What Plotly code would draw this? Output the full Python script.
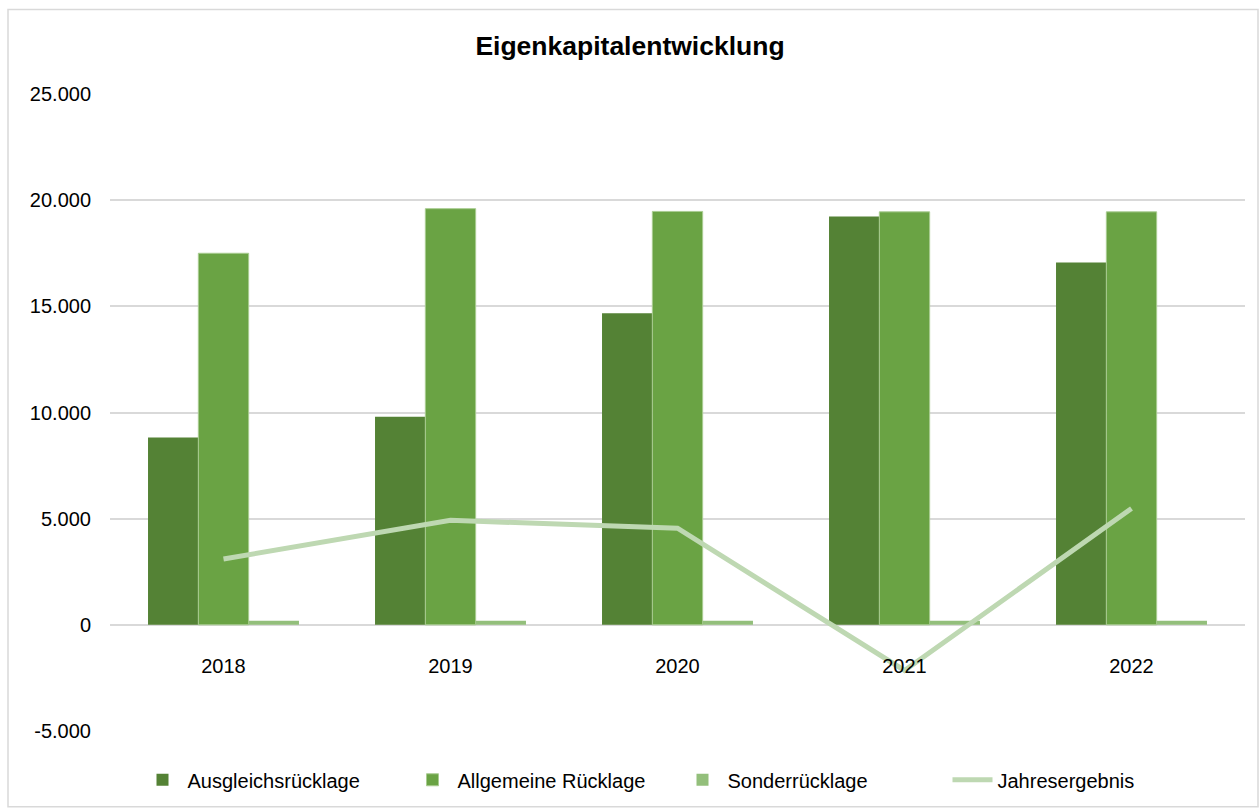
import plotly.graph_objects as go

years = ["2018", "2019", "2020", "2021", "2022"]
ausgleich = [8820, 9800, 14680, 19230, 17070]
allgemein = [17500, 19600, 19470, 19450, 19450]
sonder = [190, 190, 190, 190, 190]
ergebnis = [3100, 4920, 4550, -2150, 5480]

tick_vals = [-5000, 0, 5000, 10000, 15000, 20000, 25000]
tick_text = ["-5.000", "0", "5.000", "10.000", "15.000", "20.000", "25.000"]

W, H = 1260, 811
L, R, T, B = 110, 15, 94, 77

fig = go.Figure()
fig.add_trace(go.Bar(x=years, y=ausgleich, name="Ausgleichsrücklage",
                     marker=dict(color="#548235", line=dict(width=0))))
fig.add_trace(go.Bar(x=years, y=allgemein, name="Allgemeine Rücklage",
                     marker=dict(color="#6AA344", line=dict(color="#A9CC91", width=1))))
fig.add_trace(go.Bar(x=years, y=sonder, name="Sonderrücklage",
                     marker=dict(color="#93BF7B", line=dict(width=0))))
fig.add_trace(go.Scatter(x=years, y=ergebnis, name="Jahresergebnis", mode="lines",
                         line=dict(color="#BED8B2", width=5)))

pw, ph = W - L - R, H - T - B
# outer chart frame
fig.add_shape(type="rect", xref="paper", yref="paper",
              x0=(8 - L) / pw, x1=(1258 - L) / pw,
              y0=(H - B - 810) / ph, y1=(H - B - 9) / ph,
              line=dict(color="#D9D9D9", width=1.5), layer="below")

fig.update_layout(
    width=W, height=H,
    margin=dict(l=L, r=R, t=T, b=B),
    paper_bgcolor="white", plot_bgcolor="white",
    font=dict(family="Liberation Sans, Arial, sans-serif", size=20, color="#000000"),
    title=dict(text="<b>Eigenkapitalentwicklung</b>", x=0.5, xanchor="center",
               y=1 - 46 / H, yanchor="middle", font=dict(size=26.5)),
    barmode="group", bargap=0.335, bargroupgap=0,
    legend=dict(orientation="h", x=0.5, xanchor="center", y=-(783 - (H - B)) / ph,
                yanchor="middle", font=dict(size=20), traceorder="normal",
                itemwidth=40, entrywidthmode="pixels", entrywidth=215),
    showlegend=True,
)
fig.update_yaxes(range=[-5000, 25000], tickvals=tick_vals, ticktext=tick_text,
                 showgrid=True, gridcolor="#D9D9D9", gridwidth=1.5,
                 zeroline=True, zerolinecolor="#D9D9D9", zerolinewidth=1.5,
                 showline=False, ticks="", ticklabelstandoff=18,
                 tickfont=dict(size=20))
fig.update_xaxes(showgrid=False, showline=False, ticks="", tickfont=dict(size=20),
                 anchor="free", position=(H - B - 655) / ph)

fig.write_html("out.html", config={"displayModeBar": False},
               post_script="document.body.style.margin='0';")
